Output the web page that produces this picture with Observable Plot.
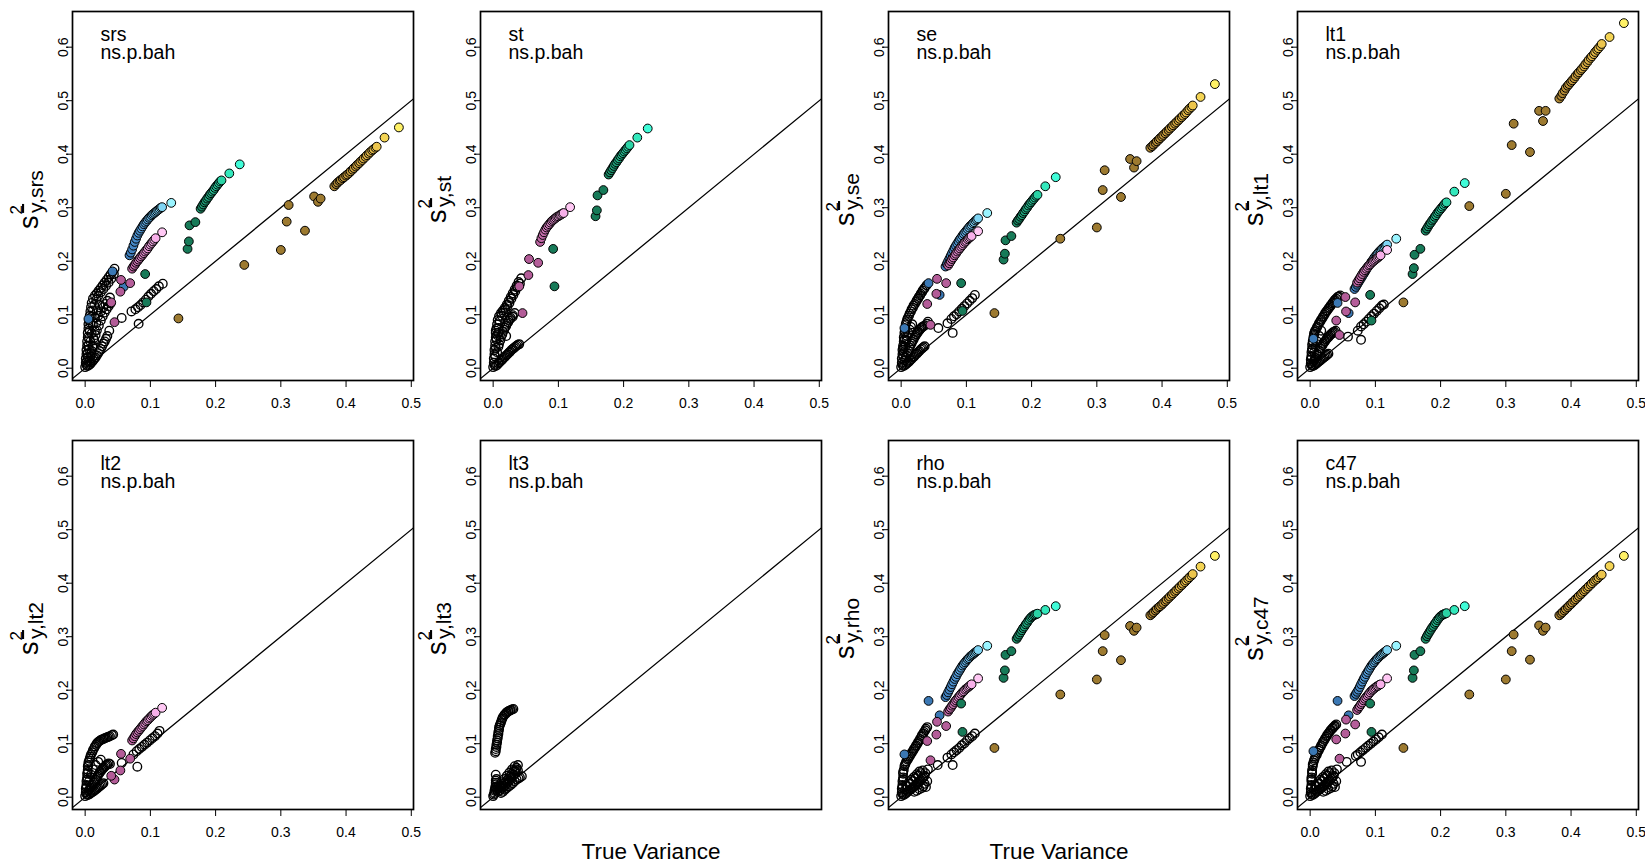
<!DOCTYPE html>
<html><head><meta charset="utf-8">
<script src="https://cdn.jsdelivr.net/npm/d3@7"></script>
<script src="https://cdn.jsdelivr.net/npm/@observablehq/plot@0.6"></script>
<style>
body{margin:0;background:#fff;}
#chart{position:relative;width:1645px;height:866px;overflow:hidden;background:#fff;}
#chart svg{position:absolute;}
</style></head><body><div id="chart"></div>
<script>
// ---------- data ----------
const panelNames = ["srs","st","se","lt1","lt2","lt3","rho","c47"];
const subtitle = "ns.p.bah";
const xLabel = "True Variance";
const xTicks = [0,0.1,0.2,0.3,0.4,0.5];
const yTicks = [0,0.1,0.2,0.3,0.4,0.5,0.6];
const diagonal = [-0.05, 0.7];

const brownX = [0.143,0.244,0.300,0.309,0.312,0.337,0.351,0.357,0.361,
  0.382,0.385,0.387,0.390,0.392,0.395,0.397,0.400,0.402,0.405,0.407,0.410,0.412,0.415,0.417,0.420,0.422,0.425,0.427,0.430,0.432,0.435,0.437,0.440,0.442,0.445,0.447,
  0.459,0.481];
const brownSrs = [0.093,0.193,0.221,0.274,0.305,0.257,0.321,0.311,0.317,
  0.340,0.344,0.347,0.350,0.352,0.355,0.357,0.360,0.362,0.365,0.368,0.371,0.374,0.377,0.380,0.383,0.386,0.389,0.392,0.395,0.398,0.401,0.404,0.407,0.409,0.412,0.414,
  0.431,0.450];
const brownSe = [0.103,0.242,0.263,0.333,0.370,0.320,0.391,0.375,0.387,
  0.412,0.415,0.418,0.421,0.424,0.427,0.430,0.433,0.436,0.439,0.442,0.445,0.448,0.451,0.454,0.457,0.460,0.463,0.466,0.469,0.472,0.475,0.478,0.482,0.485,0.488,0.491,
  0.507,0.531];
const brownLt1 = [0.123,0.303,0.326,0.417,0.457,0.404,0.481,0.462,0.481,
  0.504,0.509,0.514,0.519,0.524,0.528,0.531,0.535,0.538,0.542,0.546,0.550,0.553,0.557,0.560,0.564,0.568,0.572,0.576,0.580,0.583,0.587,0.591,0.595,0.598,0.602,0.606,
  0.619,0.645];
const brownRho = [0.092,0.192,0.220,0.273,0.303,0.256,0.320,0.311,0.317,
  0.340,0.343,0.346,0.349,0.352,0.355,0.357,0.360,0.363,0.366,0.369,0.372,0.375,0.378,0.381,0.384,0.387,0.390,0.393,0.396,0.399,0.402,0.405,0.408,0.411,0.414,0.417,
  0.431,0.451];
const brownC47 = [0.092,0.192,0.220,0.273,0.304,0.257,0.321,0.311,0.317,
  0.340,0.343,0.346,0.349,0.352,0.355,0.358,0.361,0.364,0.367,0.370,0.373,0.376,0.379,0.382,0.385,0.388,0.391,0.394,0.397,0.400,0.403,0.406,0.408,0.411,0.414,0.416,
  0.432,0.451];

const greenX = [0.094,0.092,0.157,0.159,0.160,0.169,
  0.177,0.179,0.181,0.183,0.185,0.187,0.189,0.191,0.193,0.195,0.197,0.199,0.201,0.203,0.205,0.207,0.209,
  0.221,0.237];
const greenSrs = [0.123,0.176,0.223,0.237,0.267,0.273,
  0.298,0.302,0.306,0.310,0.313,0.317,0.320,0.324,0.327,0.330,0.333,0.337,0.340,0.343,0.346,0.349,0.351,
  0.364,0.381];
const greenSt = [0.153,0.223,0.284,0.295,0.323,0.333,
  0.362,0.366,0.370,0.374,0.378,0.382,0.385,0.389,0.392,0.396,0.399,0.402,0.405,0.408,0.411,0.414,0.417,
  0.431,0.448];
const greenSe = [0.107,0.159,0.203,0.214,0.239,0.247,
  0.272,0.276,0.279,0.283,0.286,0.290,0.293,0.297,0.300,0.304,0.307,0.310,0.313,0.316,0.319,0.322,0.324,
  0.340,0.357];
const greenLt1 = [0.089,0.137,0.176,0.187,0.212,0.223,
  0.257,0.261,0.265,0.269,0.272,0.276,0.279,0.283,0.286,0.290,0.293,0.296,0.299,0.302,0.305,0.308,0.310,
  0.330,0.346];
const greenRho = [0.122,0.175,0.223,0.237,0.266,0.273,
  0.296,0.300,0.304,0.308,0.312,0.316,0.319,0.323,0.326,0.330,0.333,0.336,0.338,0.340,0.341,0.342,0.343,
  0.350,0.357];
const greenC47 = [0.122,0.175,0.223,0.237,0.266,0.273,
  0.296,0.301,0.305,0.309,0.313,0.317,0.320,0.324,0.327,0.331,0.334,0.337,0.339,0.341,0.342,0.343,0.344,
  0.350,0.357];

const blueX = [0.005,0.042,0.059,
  0.068,0.070,0.072,0.074,0.076,0.078,0.080,0.082,0.084,0.086,0.088,0.090,0.092,0.094,0.096,0.098,0.100,0.102,0.104,0.106,0.108,0.110,0.112,0.114,0.116,0.118,
  0.132];
const blueSrs = [0.092,0.181,0.152,
  0.211,0.216,0.222,0.229,0.236,0.242,0.248,0.253,0.257,0.261,0.265,0.269,0.272,0.275,0.278,0.281,0.283,0.286,0.288,0.290,0.292,0.294,0.296,0.298,0.300,0.301,
  0.309];
const blueSe = [0.075,0.159,0.137,
  0.190,0.195,0.200,0.205,0.210,0.215,0.220,0.225,0.229,0.233,0.237,0.241,0.244,0.248,0.251,0.254,0.257,0.260,0.263,0.266,0.268,0.271,0.273,0.276,0.278,0.280,
  0.290];
const blueLt1 = [0.055,0.122,0.103,
  0.148,0.152,0.156,0.160,0.164,0.168,0.172,0.176,0.180,0.184,0.188,0.192,0.195,0.199,0.202,0.206,0.209,0.212,0.215,0.218,0.220,0.223,0.225,0.227,0.229,0.231,
  0.242];
const blueRho = [0.080,0.180,0.153,
  0.187,0.191,0.196,0.201,0.206,0.211,0.216,0.221,0.225,0.230,0.234,0.238,0.242,0.246,0.249,0.252,0.255,0.258,0.260,0.263,0.265,0.267,0.269,0.271,0.273,0.275,
  0.283];
const blueC47 = [0.086,0.180,0.153,
  0.189,0.193,0.197,0.201,0.206,0.211,0.216,0.221,0.225,0.230,0.234,0.238,0.242,0.246,0.249,0.252,0.255,0.258,0.260,0.263,0.265,0.267,0.269,0.271,0.273,0.275,
  0.283];

const pinkX = [0.045,0.040,0.054,0.055,0.069,
  0.072,0.074,0.076,0.078,0.080,0.082,0.084,0.086,0.088,0.090,0.092,0.094,0.096,0.098,0.100,0.102,0.104,0.106,0.108,
  0.118];
const pinkSrs = [0.086,0.123,0.143,0.165,0.159,
  0.186,0.190,0.193,0.197,0.200,0.203,0.206,0.209,0.212,0.215,0.218,0.221,0.224,0.228,0.231,0.234,0.237,0.240,0.243,
  0.254];
const pinkSt = [0.103,0.153,0.174,0.204,0.197,
  0.236,0.243,0.249,0.254,0.259,0.263,0.266,0.269,0.272,0.275,0.277,0.279,0.281,0.283,0.284,0.286,0.287,0.289,0.290,
  0.301];
const pinkSe = [0.081,0.120,0.139,0.167,0.159,
  0.192,0.196,0.200,0.204,0.207,0.211,0.214,0.218,0.221,0.224,0.227,0.230,0.233,0.236,0.238,0.241,0.243,0.245,0.247,
  0.256];
const pinkLt1 = [0.062,0.089,0.133,0.106,0.123,
  0.160,0.164,0.168,0.172,0.176,0.180,0.183,0.186,0.189,0.192,0.194,0.197,0.199,0.201,0.203,0.205,0.207,0.209,0.211,
  0.221];
const pinkLt2 = [0.033,0.040,0.050,0.081,0.072,
  0.106,0.110,0.114,0.118,0.121,0.124,0.127,0.130,0.133,0.136,0.139,0.142,0.144,0.147,0.149,0.152,0.154,0.156,0.158,
  0.167];
const pinkRho = [0.069,0.105,0.117,0.141,0.133,
  0.160,0.164,0.167,0.171,0.174,0.178,0.181,0.184,0.187,0.190,0.193,0.196,0.198,0.201,0.203,0.205,0.207,0.209,0.211,
  0.222];
const pinkC47 = [0.072,0.108,0.119,0.145,0.136,
  0.163,0.167,0.170,0.174,0.177,0.181,0.184,0.187,0.190,0.193,0.196,0.199,0.201,0.203,0.205,0.207,0.208,0.210,0.211,
  0.222];

// open black circles: [true variance, estimate]
const blackSrs = [[0.000,0.002],[0.001,0.010],[0.001,0.018],[0.002,0.026],[0.002,0.034],[0.003,0.042],[0.003,0.050],[0.004,0.058],[0.004,0.066],[0.005,0.074],[0.005,0.082],[0.006,0.090],[0.007,0.098],[0.008,0.106],[0.009,0.114],[0.010,0.122],[0.012,0.130],
[0.015,0.136],[0.018,0.140],[0.021,0.145],[0.024,0.150],[0.027,0.155],[0.030,0.160],[0.033,0.165],[0.036,0.170],[0.039,0.175],[0.042,0.180],[0.045,0.186],
[0.006,0.012],[0.008,0.022],[0.010,0.032],[0.012,0.042],[0.014,0.052],[0.016,0.062],[0.018,0.071],[0.021,0.080],[0.024,0.089],[0.027,0.097],[0.030,0.104],[0.033,0.110],[0.036,0.116],[0.039,0.121],
[0.004,0.020],[0.006,0.035],[0.008,0.050],[0.010,0.065],[0.012,0.080],[0.015,0.095],[0.018,0.108],[0.022,0.118],
[0.004,0.004],[0.008,0.008],[0.012,0.014],[0.016,0.020],[0.020,0.028],[0.024,0.036],[0.028,0.046],[0.032,0.055],
[0.002,0.006],[0.003,0.014],[0.004,0.028],[0.005,0.042],[0.006,0.056],[0.007,0.070],[0.008,0.084],[0.010,0.096],[0.012,0.108],[0.014,0.118],[0.017,0.128],[0.020,0.135],[0.024,0.142],[0.028,0.148],[0.032,0.154],[0.036,0.160],[0.040,0.167],[0.044,0.176],
[0.009,0.028],[0.011,0.040],[0.013,0.056],[0.015,0.070],[0.017,0.084],[0.020,0.098],[0.024,0.106],[0.028,0.114],[0.031,0.120],[0.034,0.126],[0.038,0.132],
[0.006,0.006],[0.010,0.011],[0.014,0.017],[0.018,0.024],[0.022,0.032],[0.026,0.041],[0.030,0.050],[0.034,0.060],[0.037,0.070],
[0.056,0.094],[0.071,0.106],[0.082,0.083],[0.077,0.110],[0.081,0.114],[0.085,0.118],[0.089,0.123],[0.093,0.128],[0.097,0.134],[0.101,0.139],[0.105,0.144],[0.109,0.148],[0.113,0.153],[0.119,0.158]];
const blackSt = [[0.000,0.002],[0.001,0.010],[0.001,0.018],[0.002,0.026],[0.002,0.034],[0.003,0.042],[0.003,0.050],[0.004,0.058],[0.004,0.066],[0.005,0.074],[0.006,0.082],[0.007,0.090],[0.009,0.097],
[0.012,0.103],[0.015,0.108],[0.018,0.113],[0.021,0.119],[0.024,0.126],[0.027,0.133],[0.030,0.140],[0.033,0.147],[0.036,0.154],[0.039,0.161],[0.043,0.168],
[0.006,0.030],[0.009,0.045],[0.012,0.058],[0.015,0.068],[0.018,0.076],[0.021,0.083],[0.024,0.089],[0.027,0.094],[0.030,0.099],[0.033,0.103],
[0.004,0.004],[0.008,0.009],[0.012,0.014],[0.016,0.019],[0.020,0.024],[0.024,0.029],[0.028,0.034],[0.032,0.038],[0.036,0.042],[0.040,0.045],
[0.004,0.070],[0.008,0.066],[0.020,0.060],
[0.002,0.006],[0.003,0.022],[0.004,0.038],[0.005,0.054],[0.006,0.062],[0.008,0.075],[0.010,0.088],[0.013,0.098],[0.016,0.104],[0.019,0.110],[0.022,0.116],[0.025,0.122],[0.028,0.130],[0.031,0.137],[0.034,0.144],[0.037,0.151],[0.041,0.158],
[0.008,0.040],[0.011,0.052],[0.014,0.063],[0.017,0.072],[0.020,0.079],[0.023,0.086],[0.026,0.092],[0.030,0.096],
[0.006,0.006],[0.010,0.011],[0.014,0.016],[0.018,0.021],[0.022,0.026],[0.026,0.031],[0.030,0.036],[0.034,0.040],[0.038,0.044]];
const blackSe = [[0.000,0.002],[0.001,0.010],[0.001,0.018],[0.002,0.026],[0.002,0.034],[0.003,0.042],[0.004,0.050],[0.004,0.058],[0.005,0.066],[0.006,0.074],[0.007,0.082],
[0.009,0.090],[0.012,0.098],[0.015,0.106],[0.018,0.113],[0.021,0.120],[0.024,0.127],[0.027,0.133],[0.030,0.139],[0.033,0.145],[0.036,0.150],[0.039,0.155],
[0.005,0.015],[0.008,0.024],[0.011,0.033],[0.014,0.042],[0.017,0.050],[0.020,0.057],[0.023,0.063],[0.026,0.068],[0.029,0.073],[0.032,0.077],[0.036,0.080],[0.040,0.083],[0.041,0.087],
[0.004,0.030],[0.006,0.045],[0.009,0.060],[0.013,0.072],[0.017,0.082],
[0.004,0.004],[0.008,0.008],[0.012,0.012],[0.016,0.017],[0.020,0.022],[0.024,0.027],[0.028,0.032],[0.032,0.037],[0.036,0.041],
[0.002,0.006],[0.003,0.022],[0.003,0.038],[0.005,0.054],[0.006,0.068],[0.008,0.086],[0.010,0.094],[0.013,0.102],[0.016,0.110],[0.019,0.117],[0.023,0.124],[0.026,0.130],[0.029,0.136],[0.032,0.142],[0.035,0.148],
[0.007,0.020],[0.010,0.028],[0.013,0.038],[0.016,0.046],[0.019,0.053],[0.022,0.060],[0.025,0.066],[0.028,0.071],[0.031,0.075],[0.034,0.078],
[0.006,0.040],[0.008,0.052],[0.011,0.066],[0.015,0.077],
[0.006,0.006],[0.010,0.010],[0.014,0.015],[0.018,0.020],[0.022,0.025],[0.026,0.030],[0.030,0.035],[0.034,0.039],
[0.057,0.075],[0.071,0.084],[0.079,0.066],[0.077,0.092],[0.081,0.097],[0.085,0.101],[0.089,0.106],[0.093,0.111],[0.097,0.116],[0.101,0.121],[0.105,0.126],[0.109,0.131],[0.113,0.137]];
const blackLt1 = [[0.000,0.002],[0.001,0.009],[0.001,0.016],[0.002,0.023],[0.002,0.030],[0.003,0.037],[0.003,0.044],[0.004,0.051],[0.005,0.058],[0.006,0.065],
[0.008,0.071],[0.011,0.078],[0.014,0.085],[0.017,0.091],[0.020,0.097],[0.023,0.103],[0.026,0.108],[0.029,0.113],[0.032,0.118],[0.035,0.123],[0.038,0.128],[0.042,0.133],[0.046,0.136],
[0.005,0.012],[0.008,0.019],[0.011,0.026],[0.014,0.033],[0.017,0.040],[0.020,0.046],[0.023,0.051],[0.026,0.056],[0.029,0.060],[0.032,0.064],[0.035,0.067],[0.039,0.070],
[0.004,0.004],[0.008,0.007],[0.012,0.011],[0.016,0.015],[0.020,0.019],[0.024,0.023],[0.028,0.027],
[0.002,0.006],[0.002,0.020],[0.003,0.034],[0.004,0.048],[0.006,0.062],[0.007,0.068],[0.010,0.075],[0.013,0.082],[0.016,0.088],[0.019,0.094],[0.022,0.100],[0.025,0.106],[0.028,0.111],[0.031,0.116],[0.034,0.121],[0.037,0.126],[0.040,0.130],[0.044,0.134],
[0.007,0.016],[0.010,0.023],[0.013,0.030],[0.016,0.037],[0.019,0.043],[0.022,0.049],[0.025,0.054],[0.028,0.058],[0.031,0.062],[0.034,0.065],[0.037,0.068],
[0.006,0.030],[0.008,0.040],[0.011,0.050],[0.014,0.060],[0.017,0.070],
[0.006,0.005],[0.010,0.009],[0.014,0.013],[0.018,0.017],[0.022,0.021],[0.026,0.025],
[0.058,0.059],[0.073,0.070],[0.078,0.053],[0.078,0.078],[0.082,0.082],[0.086,0.087],[0.090,0.092],[0.094,0.097],[0.098,0.102],[0.102,0.107],[0.106,0.112],[0.110,0.117],[0.113,0.119]];
const blackLt2 = [[0.000,0.002],[0.001,0.009],[0.001,0.016],[0.002,0.023],[0.002,0.030],[0.003,0.037],[0.003,0.044],[0.004,0.051],[0.004,0.058],[0.005,0.065],
[0.007,0.072],[0.009,0.080],[0.012,0.088],[0.015,0.095],[0.018,0.101],[0.022,0.105],[0.026,0.108],[0.030,0.110],[0.034,0.112],[0.038,0.114],[0.043,0.117],
[0.005,0.012],[0.008,0.018],[0.011,0.024],[0.014,0.030],[0.017,0.036],[0.020,0.042],[0.023,0.047],[0.026,0.052],[0.029,0.056],[0.032,0.060],[0.036,0.063],
[0.020,0.066],[0.038,0.062],[0.024,0.070],
[0.004,0.004],[0.008,0.007],[0.012,0.010],[0.016,0.014],[0.020,0.018],[0.024,0.022],[0.028,0.026],
[0.002,0.006],[0.002,0.019],[0.003,0.033],[0.004,0.047],[0.005,0.060],[0.006,0.068],[0.008,0.076],[0.011,0.084],[0.014,0.092],[0.017,0.098],[0.020,0.103],[0.024,0.107],[0.028,0.109],[0.032,0.111],[0.036,0.113],[0.041,0.116],
[0.007,0.015],[0.010,0.021],[0.013,0.027],[0.016,0.033],[0.019,0.039],[0.022,0.045],[0.025,0.050],[0.028,0.054],[0.031,0.058],[0.034,0.061],
[0.006,0.030],[0.009,0.042],[0.012,0.052],[0.016,0.060],
[0.006,0.005],[0.010,0.009],[0.014,0.012],[0.018,0.016],[0.022,0.020],[0.026,0.024],
[0.056,0.064],[0.074,0.080],[0.080,0.057],[0.079,0.086],[0.083,0.090],[0.087,0.094],[0.091,0.098],[0.095,0.102],[0.099,0.106],[0.103,0.110],[0.107,0.114],[0.111,0.119],[0.114,0.124]];
const blackLt3 = [[0.003,0.083],[0.004,0.090],[0.005,0.098],[0.006,0.106],[0.007,0.114],[0.008,0.122],[0.009,0.130],[0.011,0.137],[0.013,0.144],[0.015,0.150],[0.018,0.155],[0.021,0.159],[0.024,0.161],[0.027,0.163],[0.031,0.165],
[0.004,0.086],[0.005,0.094],[0.006,0.102],[0.007,0.110],[0.008,0.118],[0.009,0.126],[0.010,0.134],[0.012,0.140],[0.014,0.147],[0.017,0.153],[0.020,0.157],[0.023,0.160],[0.026,0.162],[0.029,0.164],
[0.000,0.002],[0.002,0.008],[0.003,0.014],[0.004,0.020],[0.004,0.027],[0.005,0.034],[0.004,0.042],[0.007,0.010],[0.010,0.012],[0.013,0.016],[0.016,0.019],[0.019,0.023],[0.022,0.027],[0.025,0.031],[0.028,0.036],[0.031,0.042],[0.034,0.048],[0.036,0.055],[0.038,0.060],[0.033,0.058],[0.029,0.052],[0.025,0.046],[0.021,0.040],[0.017,0.034],[0.013,0.028],[0.009,0.022],[0.012,0.008],[0.018,0.014],[0.024,0.020],[0.030,0.026],[0.036,0.033],[0.041,0.037],[0.044,0.039],
[0.001,0.005],[0.002,0.012],[0.003,0.018],[0.004,0.024],[0.004,0.031],[0.006,0.014],[0.008,0.016],[0.011,0.019],[0.014,0.022],[0.017,0.026],[0.020,0.030],[0.023,0.034],[0.026,0.039],[0.029,0.044],[0.032,0.050],[0.035,0.052],[0.038,0.050],[0.015,0.010],[0.021,0.017],[0.027,0.023],[0.033,0.030],[0.039,0.035]];
const blackRho = [[0.000,0.002],[0.001,0.009],[0.001,0.016],[0.002,0.023],[0.002,0.030],[0.003,0.037],[0.003,0.044],[0.004,0.051],
[0.005,0.058],[0.007,0.064],[0.010,0.070],[0.013,0.076],[0.016,0.082],[0.019,0.088],[0.022,0.094],[0.025,0.100],[0.028,0.106],[0.031,0.113],[0.034,0.119],[0.037,0.125],[0.040,0.131],
[0.004,0.004],[0.008,0.008],[0.012,0.012],[0.016,0.016],[0.020,0.020],[0.024,0.025],[0.028,0.030],[0.032,0.035],[0.036,0.040],[0.038,0.019],[0.041,0.052],[0.030,0.045],[0.026,0.040],[0.022,0.035],[0.018,0.030],[0.014,0.025],[0.010,0.020],[0.020,0.010],[0.028,0.015],[0.034,0.020],
[0.002,0.006],[0.002,0.019],[0.003,0.033],[0.003,0.047],[0.006,0.061],[0.008,0.067],[0.011,0.073],[0.014,0.079],[0.017,0.085],[0.020,0.091],[0.023,0.097],[0.026,0.103],[0.029,0.109],[0.032,0.116],[0.035,0.122],[0.038,0.128],
[0.006,0.006],[0.010,0.010],[0.014,0.014],[0.018,0.018],[0.022,0.022],[0.026,0.027],[0.030,0.032],[0.034,0.037],[0.006,0.014],[0.008,0.022],[0.012,0.028],[0.016,0.033],[0.020,0.038],[0.024,0.043],[0.028,0.048],[0.033,0.050],[0.037,0.045],[0.024,0.012],[0.032,0.017],[0.036,0.025],[0.040,0.030],
[0.056,0.060],[0.071,0.074],[0.079,0.060],[0.077,0.080],[0.081,0.084],[0.085,0.088],[0.089,0.092],[0.093,0.097],[0.097,0.101],[0.101,0.106],[0.105,0.110],[0.109,0.114],[0.113,0.119]];
const blackC47 = [[0.000,0.002],[0.001,0.009],[0.001,0.016],[0.002,0.023],[0.002,0.030],[0.002,0.037],[0.003,0.044],[0.003,0.051],[0.004,0.058],[0.005,0.065],
[0.007,0.072],[0.010,0.079],[0.013,0.087],[0.016,0.094],[0.019,0.101],[0.022,0.107],[0.025,0.113],[0.028,0.119],[0.031,0.124],[0.034,0.128],[0.037,0.132],[0.040,0.136],
[0.004,0.004],[0.008,0.008],[0.012,0.012],[0.016,0.016],[0.020,0.020],[0.024,0.025],[0.028,0.030],[0.032,0.035],[0.036,0.040],[0.038,0.019],[0.041,0.052],[0.030,0.045],[0.026,0.040],[0.022,0.035],[0.018,0.030],[0.014,0.025],[0.010,0.020],[0.020,0.010],[0.028,0.015],[0.034,0.020],
[0.002,0.006],[0.002,0.019],[0.002,0.033],[0.003,0.047],[0.004,0.061],[0.006,0.069],[0.008,0.076],[0.011,0.083],[0.014,0.090],[0.017,0.097],[0.020,0.104],[0.023,0.110],[0.026,0.116],[0.029,0.121],[0.032,0.126],[0.035,0.130],[0.038,0.134],
[0.006,0.006],[0.010,0.010],[0.014,0.014],[0.018,0.018],[0.022,0.022],[0.026,0.027],[0.030,0.032],[0.034,0.037],[0.006,0.014],[0.008,0.022],[0.012,0.028],[0.016,0.033],[0.020,0.038],[0.024,0.043],[0.028,0.048],[0.033,0.050],[0.037,0.045],[0.024,0.012],[0.032,0.017],[0.036,0.025],[0.040,0.030],
[0.056,0.066],[0.070,0.077],[0.078,0.066],[0.073,0.080],[0.077,0.084],[0.081,0.088],[0.085,0.092],[0.089,0.096],[0.093,0.100],[0.097,0.104],[0.101,0.108],[0.105,0.112],[0.110,0.117]];

// ---------- styling ----------
const FONT = "'Liberation Sans', Arial, Helvetica, sans-serif";
const TICK_FONT = 14;
const ramps = {
  blue:  {x0: 0.062, x1: 0.132, colors: ["#3b78b4", "#4d93d4", "#6cc0ee", "#9af4ff"]},
  pink:  {x0: 0.068, x1: 0.118, colors: ["#b35c98", "#d77cbf", "#f39ee2", "#ffc8f4"]},
  green: {x0: 0.170, x1: 0.237, colors: ["#177a58", "#1fae82", "#2de2b2", "#40fcd8"]},
  brown: {x0: 0.372, x1: 0.481, colors: ["#9d7a30", "#c99a3a", "#eec048", "#fff166"]}
};
function colorOf(kind, x) {
  const r = ramps[kind];
  const t = Math.max(0, Math.min(1, (x - r.x0) / (r.x1 - r.x0)));
  return d3.interpolateRgbBasis(r.colors)(t);
}

const panels = [
  {name: "srs", black: blackSrs, groups: [["blue", blueX, blueSrs], ["pink", pinkX, pinkSrs], ["green", greenX, greenSrs], ["brown", brownX, brownSrs]], xAxis: true},
  {name: "st", black: blackSt, groups: [["pink", pinkX, pinkSt], ["green", greenX, greenSt]], xAxis: true},
  {name: "se", black: blackSe, groups: [["blue", blueX, blueSe], ["pink", pinkX, pinkSe], ["green", greenX, greenSe], ["brown", brownX, brownSe]], xAxis: true},
  {name: "lt1", black: blackLt1, groups: [["blue", blueX, blueLt1], ["pink", pinkX, pinkLt1], ["green", greenX, greenLt1], ["brown", brownX, brownLt1]], xAxis: true},
  {name: "lt2", black: blackLt2, groups: [["pink", pinkX, pinkLt2]], xAxis: true},
  {name: "lt3", black: blackLt3, groups: [], xAxis: false, xTitle: true},
  {name: "rho", black: blackRho, groups: [["blue", blueX, blueRho], ["pink", pinkX, pinkRho], ["green", greenX, greenRho], ["brown", brownX, brownRho]], xAxis: false, xTitle: true},
  {name: "c47", black: blackC47, groups: [["blue", blueX, blueC47], ["pink", pinkX, pinkC47], ["green", greenX, greenC47], ["brown", brownX, brownC47]], xAxis: true}
];

const ML = 72, MR = 6, MT = 11, PW = 341, PH = 369;
const colLeft = [0, 408, 816, 1225];
const rowTop = [0, 429];
const rowMB = [49, 57];
const fmt = d => d.toFixed(1);
const chart = document.getElementById("chart");

panels.forEach((p, i) => {
  const col = i % 4, row = Math.floor(i / 4);
  const blackPts = p.black.map(([x, y]) => ({x, y}));
  const colPts = [];
  for (const [kind, xs, ys] of p.groups) ys.forEach((y, j) => colPts.push({x: xs[j], y, fill: colorOf(kind, xs[j])}));
  const height = MT + PH + rowMB[row];
  const svg = Plot.plot({
    width: ML + PW + MR, height,
    marginLeft: ML, marginRight: MR, marginTop: MT, marginBottom: rowMB[row],
    style: {background: "none", overflow: "visible", fontFamily: FONT, fontSize: TICK_FONT + "px", color: "black"},
    x: {domain: [-0.0194, 0.5034], axis: null},
    y: {domain: [-0.023, 0.6667], axis: null},
    color: {type: "identity"},
    marks: [
      p.xAxis ? Plot.axisX(xTicks, {tickSize: 7, tickPadding: 11, tickFormat: fmt, fontSize: TICK_FONT, label: null}) : null,
      Plot.axisY(yTicks, {tickSize: 6, tickPadding: -1, tickRotate: -90, textAnchor: "middle", lineAnchor: "bottom", tickFormat: fmt, fontSize: TICK_FONT, label: null}),
      Plot.line(diagonal, {x: d => d, y: d => d, clip: true, stroke: "black", strokeWidth: 1.3}),
      Plot.dot(blackPts, {x: "x", y: "y", r: 4.3, stroke: "black", strokeWidth: 1.35, fill: "none"}),
      Plot.dot(colPts, {x: "x", y: "y", r: 4.4, fill: "fill", stroke: "black", strokeWidth: 1}),
      Plot.text([p.name + "\n" + subtitle], {text: d => d, frameAnchor: "top-left", dx: 28, dy: 17, lineAnchor: "top", lineHeight: 0.913, textAnchor: "start", fontSize: 19.5, fill: "black"}),
      p.xTitle ? Plot.text([xLabel], {text: d => d, frameAnchor: "bottom", dy: 34, lineAnchor: "top", fontSize: 22.5, fill: "black"}) : null,
      Plot.frame({stroke: "black", strokeWidth: 1.7})
    ]
  });
  svg.style.left = colLeft[col] + "px";
  svg.style.top = rowTop[row] + "px";
  // make sure tick labels use the intended size
  svg.querySelectorAll("g[aria-label$='tick label'], g[aria-label$='tick label'] text").forEach(el => {
    el.setAttribute("font-size", TICK_FONT);
    el.style.fontSize = TICK_FONT + "px";
  });
  // y-axis title: s^2 with subscript (y-bar, estimator)
  const t = d3.select(svg).append("text")
    .attr("transform", `translate(38,${MT + PH / 2 + 4}) rotate(-90)`)
    .attr("text-anchor", "middle").attr("fill", "black")
    .attr("font-family", FONT);
  t.append("tspan").attr("font-size", 27).text("s");
  t.append("tspan").attr("font-size", 17).attr("dx", 1).attr("dy", -16).text("2");
  t.append("tspan").attr("font-size", 21).attr("dx", -8).attr("dy", 21).style("text-decoration", "overline").text("y");
  t.append("tspan").attr("font-size", 21).text("," + p.name);
  chart.appendChild(svg);
});
</script>
</body></html>
